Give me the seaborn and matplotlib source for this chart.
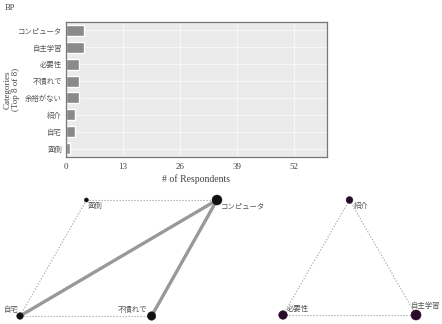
import matplotlib
matplotlib.use("Agg")
import matplotlib.pyplot as plt
import seaborn as sns
import pandas as pd

categories = ["コンピュータ", "自主学習", "必要性", "不慣れで", "余裕がない", "紹介", "自宅", "面倒"]
counts = [4, 4, 3, 3, 3, 2, 2, 1]
x_ticks = [0, 13, 26, 39, 52]

# network 1
net1_nodes = ["面倒", "コンピュータ", "自宅", "不慣れで"]
net1_sizes = [1, 4, 2, 3]
net1_strong = [("自宅", "コンピュータ"), ("不慣れで", "コンピュータ")]
net1_weak = [("面倒", "コンピュータ"), ("面倒", "自宅"), ("自宅", "不慣れで")]
# network 2
net2_nodes = ["紹介", "必要性", "自主学習"]
net2_sizes = [2, 3, 4]
net2_weak = [("紹介", "必要性"), ("紹介", "自主学習"), ("必要性", "自主学習")]

sns.set_theme(style="whitegrid")
FAM = ["Liberation Serif", "Noto Sans CJK JP"]
plt.rcParams["font.family"] = FAM

W, H = 442, 324
fig = plt.figure(figsize=(W / 100, H / 100), dpi=100)

def rect(x0, y0, x1, y1):
    return [x0 / W, 1 - y1 / H, (x1 - x0) / W, (y1 - y0) / H]

ax = fig.add_axes(rect(66, 22, 327, 157))
ax.set_facecolor("#ebebeb")
df = pd.DataFrame({"cat": categories, "n": counts})
sns.barplot(data=df, x="n", y="cat", ax=ax, color="#8a8a8a", width=0.65, saturation=1)
ax.set_xlim(0, 59.5)
ax.set_xticks(x_ticks)
ax.set_xticklabels([str(t) for t in x_ticks], fontsize=6.5, color="#444")
ax.tick_params(axis="y", labelsize=5.3, labelcolor="#555", length=0, pad=3)
ax.tick_params(axis="x", length=2, pad=2)
ax.grid(True, color="#f7f7f7", linewidth=0.8)
ax.set_axisbelow(True)
for s in ax.spines.values():
    s.set_color("#777")
    s.set_linewidth(0.9)
ax.set_xlabel("# of Respondents", fontsize=7, color="#444", labelpad=3)
ax.set_ylabel("Categories\n(Top 8 of 8)", fontsize=6.5, color="#444", linespacing=1.1)
ax.yaxis.set_label_coords((20 - 66) / (327 - 66), 0.5)
fig.text(5 / W, 1 - 8 / H, "BP", fontsize=6, color="#444", va="center")

def draw_net(axn, pos, nodes, sizes, strong, weak, color, labels):
    axn.set_xlim(0, 1)
    axn.set_ylim(0, 1)
    axn.axis("off")
    for a, b in weak:
        axn.plot([pos[a][0], pos[b][0]], [pos[a][1], pos[b][1]], ls=(0, (1.2, 1.5)),
                 color="#aaaaaa", lw=0.8, clip_on=False, zorder=1)
    for a, b in strong:
        axn.plot([pos[a][0], pos[b][0]], [pos[a][1], pos[b][1]], color="#999999",
                 lw=2.4, clip_on=False, zorder=2, solid_capstyle="round")
    ndf = pd.DataFrame({"x": [pos[n][0] for n in nodes], "y": [pos[n][1] for n in nodes],
                        "s": sizes})
    sns.scatterplot(data=ndf, x="x", y="y", size="s", sizes=(9, 52), size_norm=(1, 4),
                    color=color, edgecolor=color, legend=False, ax=axn, zorder=3)
    for c in axn.collections:
        c.set_clip_on(False)
    axn.set_xlabel("")
    axn.set_ylabel("")
    for n, (dx, dy, ha, va) in labels.items():
        axn.annotate(n, pos[n], xytext=(dx, dy), textcoords="offset points", ha=ha, va=va,
                     fontsize=5.3, color="#555", annotation_clip=False)

pos1 = {"面倒": (0.337, 1.0), "コンピュータ": (1.0, 1.0), "自宅": (0.0, 0.0), "不慣れで": (0.668, 0.0)}
ax1 = fig.add_axes(rect(20, 200, 217, 316))
draw_net(ax1, pos1, net1_nodes, net1_sizes, net1_strong, net1_weak, "#111111",
         {"面倒": (1, -1, "left", "top"), "コンピュータ": (3, -2, "left", "top"),
          "自宅": (-1, 2, "right", "bottom"), "不慣れで": (-3, 2, "right", "bottom")})

pos2 = {"紹介": (0.5, 1.0), "必要性": (0.0, 0.0), "自主学習": (1.0, 0.0)}
ax2 = fig.add_axes(rect(283, 200, 416, 315))
draw_net(ax2, pos2, net2_nodes, net2_sizes, [], net2_weak, "#2a0a2c",
         {"紹介": (3, -1, "left", "top"), "必要性": (3, 2, "left", "bottom"),
          "自主学習": (-4, 4, "left", "bottom")})

fig.savefig("out.png", dpi=100)
